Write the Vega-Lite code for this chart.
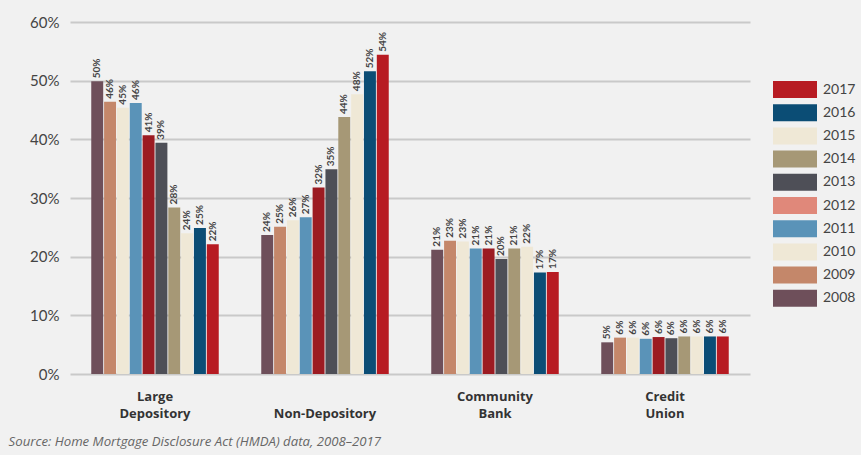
{
  "$schema": "https://vega.github.io/schema/vega-lite/v6.json",
  "width": 680,
  "height": 352,
  "autosize": {"type": "none"},
  "padding": {"left": 70, "top": 22, "right": 111, "bottom": 81},
  "background": "#f1f1f1",
  "config": {"view": {"stroke": null}, "font": "Lato"},
  "title": {
    "text": "Source: Home Mortgage Disclosure Act (HMDA) data, 2008–2017",
    "orient": "bottom",
    "anchor": "start",
    "font": "Open Sans",
    "fontSize": 13.2,
    "fontStyle": "italic",
    "fontWeight": "normal",
    "color": "#666666",
    "dx": -21,
    "offset": 16
  },
  "data": {
    "values": [
      {"cat": "Large Depository", "year": "2008", "v": 0.499},
      {"cat": "Large Depository", "year": "2009", "v": 0.464},
      {"cat": "Large Depository", "year": "2010", "v": 0.454},
      {"cat": "Large Depository", "year": "2011", "v": 0.462},
      {"cat": "Large Depository", "year": "2012", "v": 0.407},
      {"cat": "Large Depository", "year": "2013", "v": 0.394},
      {"cat": "Large Depository", "year": "2014", "v": 0.284},
      {"cat": "Large Depository", "year": "2015", "v": 0.240},
      {"cat": "Large Depository", "year": "2016", "v": 0.249},
      {"cat": "Large Depository", "year": "2017", "v": 0.221},
      {"cat": "Non-Depository", "year": "2008", "v": 0.237},
      {"cat": "Non-Depository", "year": "2009", "v": 0.251},
      {"cat": "Non-Depository", "year": "2010", "v": 0.262},
      {"cat": "Non-Depository", "year": "2011", "v": 0.267},
      {"cat": "Non-Depository", "year": "2012", "v": 0.318},
      {"cat": "Non-Depository", "year": "2013", "v": 0.349},
      {"cat": "Non-Depository", "year": "2014", "v": 0.438},
      {"cat": "Non-Depository", "year": "2015", "v": 0.477},
      {"cat": "Non-Depository", "year": "2016", "v": 0.516},
      {"cat": "Non-Depository", "year": "2017", "v": 0.544},
      {"cat": "Community Bank", "year": "2008", "v": 0.212},
      {"cat": "Community Bank", "year": "2009", "v": 0.227},
      {"cat": "Community Bank", "year": "2010", "v": 0.226},
      {"cat": "Community Bank", "year": "2011", "v": 0.214},
      {"cat": "Community Bank", "year": "2012", "v": 0.214},
      {"cat": "Community Bank", "year": "2013", "v": 0.196},
      {"cat": "Community Bank", "year": "2014", "v": 0.214},
      {"cat": "Community Bank", "year": "2015", "v": 0.217},
      {"cat": "Community Bank", "year": "2016", "v": 0.173},
      {"cat": "Community Bank", "year": "2017", "v": 0.174},
      {"cat": "Credit Union", "year": "2008", "v": 0.054},
      {"cat": "Credit Union", "year": "2009", "v": 0.062},
      {"cat": "Credit Union", "year": "2010", "v": 0.062},
      {"cat": "Credit Union", "year": "2011", "v": 0.060},
      {"cat": "Credit Union", "year": "2012", "v": 0.063},
      {"cat": "Credit Union", "year": "2013", "v": 0.061},
      {"cat": "Credit Union", "year": "2014", "v": 0.064},
      {"cat": "Credit Union", "year": "2015", "v": 0.064},
      {"cat": "Credit Union", "year": "2016", "v": 0.064},
      {"cat": "Credit Union", "year": "2017", "v": 0.064}
    ]
  },
  "encoding": {
    "x": {
      "field": "cat",
      "type": "nominal",
      "sort": ["Large Depository", "Non-Depository", "Community Bank", "Credit Union"],
      "scale": {"paddingInner": 0.25, "paddingOuter": 0.125},
      "axis": {
        "title": null,
        "domain": false,
        "ticks": false,
        "labelAngle": 0,
        "labelFont": "Open Sans",
        "labelFontSize": 13,
        "labelFontWeight": "bold",
        "labelColor": "#333333",
        "labelPadding": 16,
        "labelLineHeight": 17,
        "labelExpr": "datum.label == 'Non-Depository' ? ['', datum.label] : split(datum.label, ' ')"
      }
    },
    "xOffset": {
      "field": "year",
      "type": "nominal",
      "sort": ["2008", "2009", "2010", "2011", "2012", "2013", "2014", "2015", "2016", "2017"],
      "scale": {"paddingInner": 0.07}
    },
    "y": {
      "field": "v",
      "type": "quantitative",
      "scale": {"domain": [0, 0.6]},
      "axis": {
        "title": null,
        "format": ".0%",
        "values": [0, 0.1, 0.2, 0.3, 0.4, 0.5, 0.6],
        "domain": false,
        "ticks": false,
        "gridColor": "#c9c9c9",
        "gridWidth": 2,
        "labelFontSize": 15,
        "labelColor": "#444444",
        "labelPadding": 11
      }
    }
  },
  "layer": [
    {
      "mark": {"type": "bar"},
      "encoding": {
        "color": {
          "field": "year",
          "type": "nominal",
          "scale": {
            "domain": ["2008", "2009", "2010", "2011", "2012", "2013", "2014", "2015", "2016", "2017"],
            "range": ["#6e4f5a", "#c4876a", "#efe8d6", "#5a93b8", "#9c1b22", "#4e4f57", "#a69876", "#efe8d6", "#0b4d75", "#b71b22"]
          },
          "legend": null
        }
      }
    },
    {
      "mark": {"type": "bar", "opacity": 0},
      "encoding": {
        "color": {
          "field": "year",
          "type": "nominal",
          "scale": {
            "domain": ["2017", "2016", "2015", "2014", "2013", "2012", "2011", "2010", "2009", "2008"],
            "range": ["#b71b22", "#0b4d75", "#efe8d6", "#a69876", "#4e4f57", "#e0887a", "#5a93b8", "#efe8d6", "#c4876a", "#6e4f5a"]
          },
          "legend": {
            "title": null,
            "orient": "none",
            "legendX": 714,
            "legendY": 56.5,
            "padding": 0,
            "symbolType": "M-2,-0.773L2,-0.773L2,0.773L-2,0.773Z",
            "symbolSize": 484,
            "symbolOpacity": 1,
            "symbolStrokeWidth": 0,
            "labelFontSize": 14,
            "labelColor": "#444444",
            "labelOffset": 17,
            "rowPadding": 3.2
          }
        }
      }
    },
    {
      "mark": {
        "type": "text",
        "angle": 270,
        "align": "left",
        "baseline": "middle",
        "dx": 3,
        "fontSize": 10,
        "fontWeight": "bold",
        "color": "#444444"
      },
      "encoding": {
        "text": {"field": "v", "type": "quantitative", "format": ".0%"}
      }
    }
  ],
  "resolve": {"scale": {"color": "independent"}}
}
